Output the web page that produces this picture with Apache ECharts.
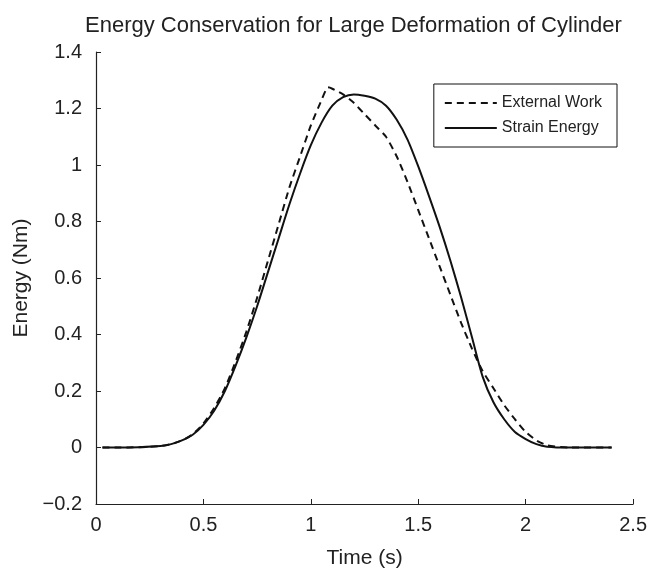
<!DOCTYPE html>
<html>
<head>
<meta charset="utf-8">
<script src="https://cdn.jsdelivr.net/npm/echarts@6/dist/echarts.min.js"></script>
<style>
  html, body { margin: 0; padding: 0; background: #fff; }
  #chart { width: 650px; height: 574px; }
</style>
</head>
<body>
<div id="chart"></div>
<script>
// values
const xTicks = [0, 0.5, 1, 1.5, 2, 2.5];
const yTicks = [-0.2, 0, 0.2, 0.4, 0.6, 0.8, 1, 1.2, 1.4];

const timeExt = [0.03, 0.1, 0.2, 0.3, 0.35, 0.4, 0.45, 0.5, 0.55, 0.6, 0.65, 0.7, 0.75, 0.8, 0.85, 0.9, 0.95, 1.0, 1.05, 1.08, 1.1, 1.15, 1.2, 1.25, 1.3, 1.35, 1.4, 1.45, 1.5, 1.55, 1.6, 1.65, 1.7, 1.75, 1.8, 1.85, 1.9, 1.95, 2.0, 2.05, 2.1, 2.2, 2.4];
const extWork = [0, 0, 0.001, 0.005, 0.012, 0.025, 0.047, 0.085, 0.14, 0.21, 0.305, 0.41, 0.53, 0.66, 0.79, 0.92, 1.03, 1.14, 1.23, 1.275, 1.27, 1.25, 1.22, 1.18, 1.14, 1.1, 1.03, 0.94, 0.84, 0.74, 0.64, 0.54, 0.44, 0.35, 0.27, 0.21, 0.15, 0.1, 0.055, 0.025, 0.008, 0, 0];

const timeStrain = [0.03, 0.1, 0.2, 0.3, 0.35, 0.4, 0.45, 0.5, 0.55, 0.6, 0.65, 0.7, 0.75, 0.8, 0.85, 0.9, 0.95, 1.0, 1.05, 1.1, 1.15, 1.2, 1.25, 1.3, 1.35, 1.4, 1.45, 1.5, 1.55, 1.6, 1.65, 1.7, 1.75, 1.8, 1.85, 1.9, 1.95, 2.0, 2.05, 2.1, 2.2, 2.4];
const strainEnergy = [0, 0, 0.001, 0.005, 0.012, 0.025, 0.045, 0.08, 0.13, 0.2, 0.29, 0.39, 0.5, 0.62, 0.74, 0.86, 0.97, 1.07, 1.15, 1.21, 1.24, 1.25, 1.245, 1.235, 1.21, 1.16, 1.09, 0.995, 0.89, 0.78, 0.66, 0.53, 0.39, 0.25, 0.16, 0.1, 0.055, 0.03, 0.012, 0.003, 0, 0];

const pairs = (xs, ys) => xs.map((x, i) => [x, ys[i]]);

const chart = echarts.init(document.getElementById('chart'));

const fmt = v => {
  if (Math.abs(v) < 1e-9) return '0';
  return String(+v.toFixed(1)).replace('-', '\u2212');
};

const ink = '#222';

const option = {
  animation: false,
  backgroundColor: '#fff',
  textStyle: { fontFamily: 'Liberation Sans, Arial, sans-serif', color: ink },
  title: {
    text: 'Energy Conservation for Large Deformation of Cylinder',
    left: 80,
    top: 10,
    textStyle: { fontSize: 22, fontWeight: 'normal', color: ink }
  },
  legend: {
    orient: 'vertical',
    right: 33,
    top: 84,
    padding: [11, 15, 11, 10],
    itemWidth: 52,
    itemHeight: 14,
    itemGap: 9,
    borderColor: '#111',
    borderWidth: 1,
    borderRadius: 0,
    itemStyle: { opacity: 0 },
    textStyle: { fontSize: 16, color: ink },
    data: ['External Work', 'Strain Energy']
  },
  grid: { left: 96, right: 16, top: 52, bottom: 68, containLabel: false },
  xAxis: {
    type: 'value',
    min: xTicks[0],
    max: xTicks[xTicks.length - 1],
    interval: 0.5,
    name: 'Time (s)',
    nameLocation: 'middle',
    nameGap: 44,
    nameTextStyle: { fontSize: 21, color: ink },
    axisLine: { show: true, onZero: false, lineStyle: { color: ink, width: 1.2 } },
    axisTick: { show: true, inside: true, length: 5, lineStyle: { color: ink } },
    axisLabel: { fontSize: 20, color: ink, margin: 11, formatter: fmt },
    splitLine: { show: false }
  },
  yAxis: {
    type: 'value',
    min: yTicks[0],
    max: yTicks[yTicks.length - 1],
    interval: 0.2,
    name: 'Energy (Nm)',
    nameLocation: 'middle',
    nameGap: 60,
    nameTextStyle: { fontSize: 21, color: ink },
    axisLine: { show: true, onZero: false, lineStyle: { color: ink, width: 1.2 } },
    axisTick: { show: true, inside: true, length: 5, lineStyle: { color: ink } },
    axisLabel: { fontSize: 20, color: ink, margin: 14, formatter: fmt },
    splitLine: { show: false }
  },
  series: [
    {
      name: 'External Work',
      type: 'line',
      symbol: 'none',
      smooth: 0.2,
      data: pairs(timeExt, extWork),
      lineStyle: { color: '#111', width: 2, type: [7, 5] },
      itemStyle: { color: '#111' }
    },
    {
      name: 'Strain Energy',
      type: 'line',
      symbol: 'none',
      smooth: 0.25,
      data: pairs(timeStrain, strainEnergy),
      lineStyle: { color: '#111', width: 2, type: 'solid' },
      itemStyle: { color: '#111' }
    }
  ]
};

chart.setOption(option);
</script>
</body>
</html>
